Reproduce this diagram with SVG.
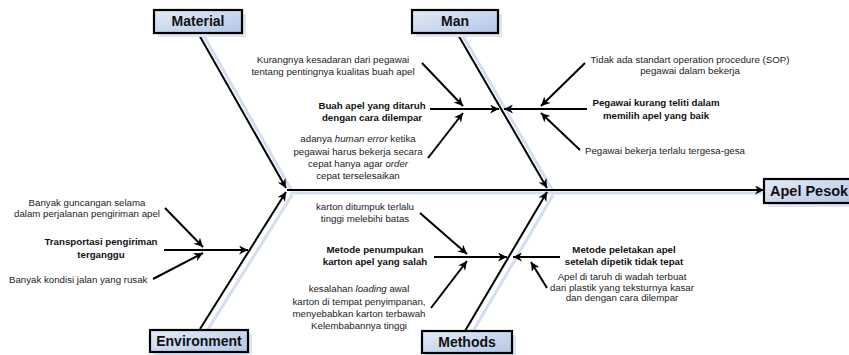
<svg xmlns="http://www.w3.org/2000/svg" width="849" height="355" viewBox="0 0 849 355">
<defs>
<linearGradient id="boxfill" x1="0" y1="0" x2="1" y2="1">
<stop offset="0" stop-color="#e4ebf6"/>
<stop offset="1" stop-color="#b3c6e6"/>
</linearGradient>
<marker id="ah" viewBox="0 0 10 10" refX="10" refY="5" markerWidth="11" markerHeight="9" markerUnits="userSpaceOnUse" orient="auto">
<path d="M0,0 L10,5 L0,10 L3,5 z" fill="#000"/>
</marker>
<style>
.box{fill:url(#boxfill);stroke:#000;stroke-width:2.2}
.shadow{fill:#dde5f3}
.lbl{font-family:"Liberation Sans",Arial,sans-serif;font-weight:bold;font-size:14px;fill:#111;text-anchor:middle}
.t{font-family:"Liberation Sans",Arial,sans-serif;font-size:9.7px;fill:#222;text-anchor:middle}
.b{font-weight:bold;fill:#111}
.l{text-anchor:start}
.c{stroke:#000;stroke-width:2;fill:none}
.a{marker-end:url(#ah)}
.sh{stroke:#d3def1;stroke-width:3;fill:none}
</style>
</defs>
<rect width="849" height="355" fill="#fff"/>
<g id="shadows">
<line class="sh" x1="204" y1="36" x2="292" y2="191"/>
<line class="sh" x1="463" y1="36" x2="553" y2="191"/>
<line class="sh" x1="207" y1="331" x2="292" y2="195"/>
<line class="sh" x1="472" y1="333" x2="553" y2="195"/>
<line class="sh" x1="290" y1="193" x2="762" y2="193"/>
</g>
<g id="connectors">
<line class="c a" x1="198" y1="33" x2="286" y2="188"/>
<line class="c a" x1="200" y1="329" x2="286" y2="192"/>
<line class="c a" x1="457" y1="33" x2="547" y2="188"/>
<line class="c a" x1="465" y1="331" x2="547" y2="192"/>
<line class="c a" x1="287" y1="190" x2="764" y2="190"/>
<line class="c a" x1="422" y1="63" x2="463" y2="106"/>
<line class="c a" x1="430" y1="109" x2="499" y2="109"/>
<line class="c a" x1="428" y1="158" x2="463" y2="113"/>
<line class="c a" x1="587" y1="109" x2="504" y2="109"/>
<line class="c a" x1="585" y1="63" x2="541" y2="106"/>
<line class="c a" x1="580" y1="150" x2="541" y2="113"/>
<line class="c a" x1="165" y1="208" x2="203" y2="247"/>
<line class="c a" x1="164" y1="250" x2="248" y2="250"/>
<line class="c a" x1="153" y1="279" x2="203" y2="253"/>
<line class="c a" x1="420" y1="213" x2="467" y2="254"/>
<line class="c a" x1="434" y1="257" x2="507" y2="257"/>
<line class="c a" x1="431" y1="308" x2="467" y2="261"/>
<line class="c a" x1="560" y1="257" x2="513" y2="257"/>
<line class="c a" x1="547" y1="288" x2="531" y2="262"/>
</g>
<g id="material">
<rect class="shadow" x="158" y="14" width="88" height="23"/>
<rect class="box" x="154" y="10" width="88" height="23"/>
<text class="lbl" x="198" y="26">Material</text>
</g>
<g id="man">
<rect class="shadow" x="416" y="14" width="86" height="23"/>
<rect class="box" x="412" y="10" width="86" height="23"/>
<text class="lbl" x="455" y="26">Man</text>
</g>
<g id="environment">
<rect class="shadow" x="154" y="334" width="98" height="22"/>
<rect class="box" x="150" y="330" width="98" height="22"/>
<text class="lbl" x="199" y="346">Environment</text>
</g>
<g id="methods">
<rect class="shadow" x="426" y="335" width="90" height="22"/>
<rect class="box" x="422" y="331" width="90" height="22"/>
<text class="lbl" x="467" y="347">Methods</text>
</g>
<g id="apel-pesok">
<rect class="shadow" x="768" y="183" width="90" height="24"/>
<rect class="box" x="764" y="179" width="90" height="24"/>
<text class="lbl" x="770" y="196" style="text-anchor:start;font-size:14.5px">Apel Pesok</text>
</g>
<g id="man-causes">
<text class="t" x="333" y="63">Kurangnya kesadaran dari pegawai</text>
<text class="t" x="333" y="75">tentang pentingnya kualitas buah apel</text>
<text class="t b" x="372" y="109">Buah apel yang ditaruh</text>
<text class="t b" x="372" y="121">dengan cara dilempar</text>
<text class="t" x="358" y="142">adanya <tspan font-style="italic">human error</tspan> ketika</text>
<text class="t" x="358" y="155">pegawai harus bekerja secara</text>
<text class="t" x="358" y="167">cepat hanya agar <tspan font-style="italic">order</tspan></text>
<text class="t" x="358" y="179">cepat terselesaikan</text>
<text class="t" x="690" y="63">Tidak ada standart operation procedure (SOP)</text>
<text class="t" x="690" y="74">pegawai dalam bekerja</text>
<text class="t b" x="656" y="106">Pegawai kurang teliti dalam</text>
<text class="t b" x="656" y="119">memilih apel yang baik</text>
<text class="t l" x="585" y="154">Pegawai bekerja terlalu tergesa-gesa</text>
</g>
<g id="environment-causes">
<text class="t" x="87" y="206">Banyak guncangan selama</text>
<text class="t" x="87" y="217">dalam perjalanan pengiriman apel</text>
<text class="t b" x="101" y="245">Transportasi pengiriman</text>
<text class="t b" x="101" y="258">terganggu</text>
<text class="t l" x="9" y="283">Banyak kondisi jalan yang rusak</text>
</g>
<g id="methods-causes">
<text class="t" x="365" y="210">karton ditumpuk terlalu</text>
<text class="t" x="365" y="222">tinggi melebihi batas</text>
<text class="t b" x="375" y="253">Metode penumpukan</text>
<text class="t b" x="375" y="265">karton apel yang salah</text>
<text class="t" x="359" y="292">kesalahan <tspan font-style="italic">loading</tspan> awal</text>
<text class="t" x="359" y="305">karton di tempat penyimpanan,</text>
<text class="t" x="359" y="317">menyebabkan karton terbawah</text>
<text class="t" x="359" y="329">Kelembabannya tinggi</text>
<text class="t b" x="624" y="253">Metode peletakan apel</text>
<text class="t b" x="624" y="265">setelah dipetik tidak tepat</text>
<text class="t" x="622" y="280">Apel di taruh di wadah terbuat</text>
<text class="t" x="622" y="291">dari plastik yang teksturnya kasar</text>
<text class="t" x="622" y="301">dan dengan cara dilempar</text>
</g>
</svg>
